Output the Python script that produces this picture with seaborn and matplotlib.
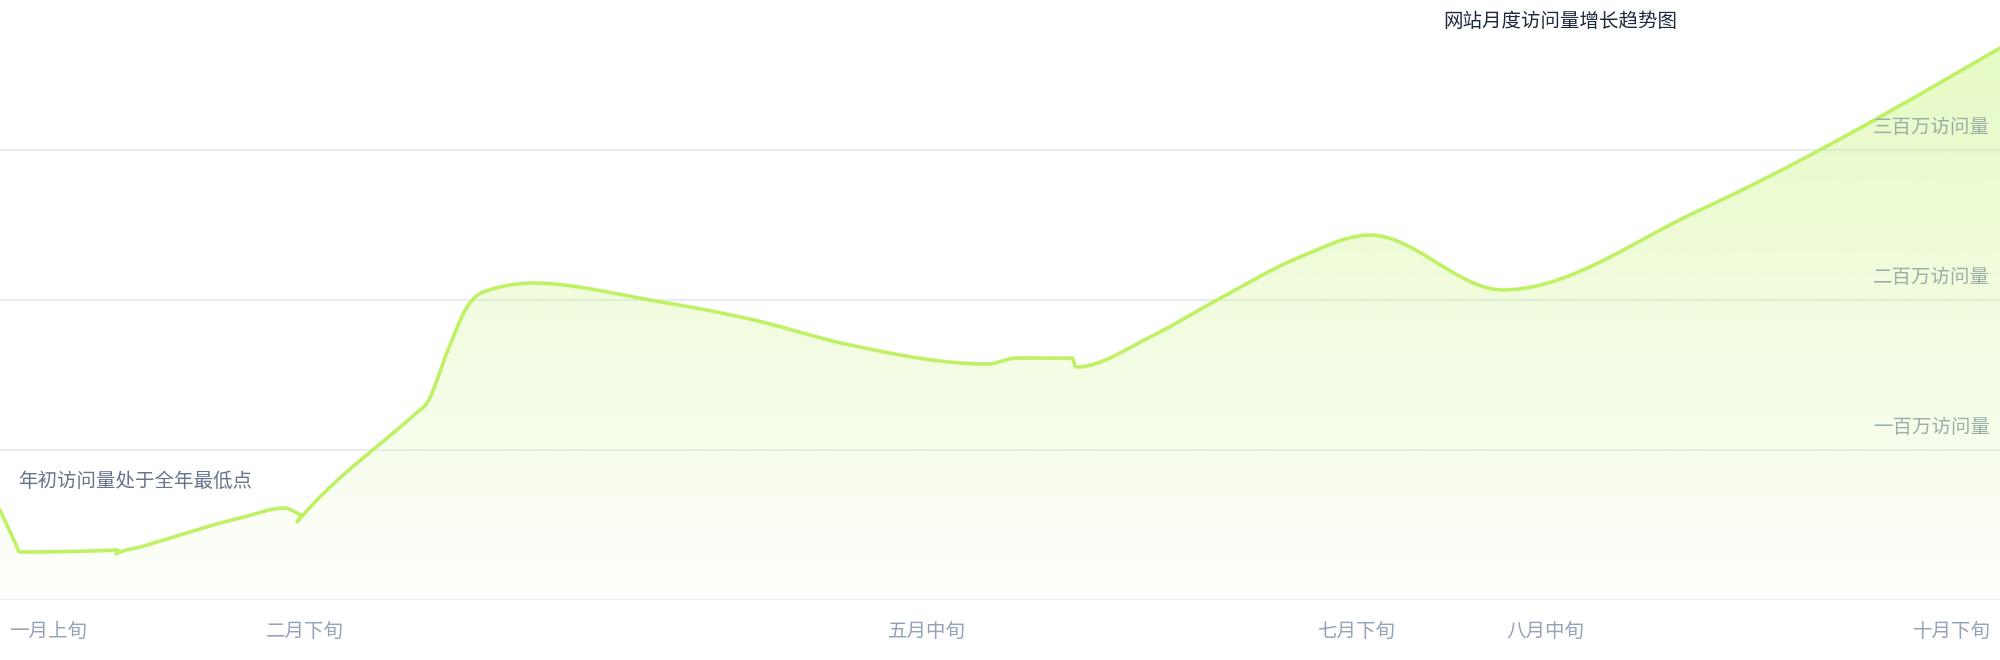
import numpy as np
import pandas as pd
import matplotlib
matplotlib.use("Agg")
import matplotlib.pyplot as plt
import seaborn as sns
from matplotlib.patches import Polygon
from matplotlib.transforms import blended_transform_factory

# ---------------- data ----------------
days = [0.0, 1.4, 2.0, 11.8, 11.6, 14.0, 24.0, 28.5, 30.3, 29.7, 41.5, 42.7, 44.8,
        46.7, 48.3, 53.3, 65.0, 75.0, 85.0, 98.7, 101.7, 107.2, 107.6, 115.0,
        121.7, 130.0, 137.0, 150.3, 170.0, 200.0]
visits = [60.0, 40.0, 32.0, 33.3, 30.7, 35.3, 54.7, 61.3, 56.7, 52.0, 124.0, 131.3, 166.7,
          195.3, 205.3, 211.3, 200.0, 187.3, 170.0, 157.3, 161.3, 161.3, 155.3, 175.3,
          200.0, 228.7, 243.3, 206.7, 260.0, 368.0]

x_tick_pos = [4.8, 30.5, 92.7, 135.6, 154.5, 195.2]
x_tick_labels = ["一月上旬", "二月下旬", "五月中旬", "七月下旬", "八月中旬", "十月下旬"]

y_grid_values = [100, 200, 300]
y_grid_labels = ["一百万访问量", "二百万访问量", "三百万访问量"]

title_text = "网站月度访问量增长趋势图"
note_text = "年初访问量处于全年最低点"

# ---------------- style ----------------
sns.set_theme(style="white")
plt.rcParams["font.family"] = ["Noto Sans CJK SC", "DejaVu Sans"]

LINE = "#bef264"
GRID = "#e2e8f0"


def monotone_x(xs, ys, n=40):
    """Smooth monotone-x cubic rendering of the points (as d3.curveMonotoneX)."""
    xs = np.asarray(xs, float)
    ys = np.asarray(ys, float)
    N = len(xs)
    h = np.diff(xs)
    s = np.diff(ys) / h
    sg = lambda v: -1.0 if v < 0 else 1.0
    t = np.zeros(N)
    for i in range(1, N - 1):
        h0, h1, s0, s1 = h[i - 1], h[i], s[i - 1], s[i]
        p = (s0 * h1 + s1 * h0) / (h0 + h1)
        t[i] = (sg(s0) + sg(s1)) * min(abs(s0), abs(s1), 0.5 * abs(p))
    t[0] = (3 * s[0] - t[1]) / 2
    t[-1] = (3 * s[-1] - t[-2]) / 2
    bx, by = [xs[0]], [ys[0]]
    u = np.linspace(0, 1, n)[1:]
    for i in range(N - 1):
        x0, y0, x1, y1 = xs[i], ys[i], xs[i + 1], ys[i + 1]
        dx = (x1 - x0) / 3
        P = np.array([[x0, y0], [x0 + dx, y0 + dx * t[i]],
                      [x1 - dx, y1 - dx * t[i + 1]], [x1, y1]])
        B = ((1 - u) ** 3)[:, None] * P[0] + (3 * (1 - u) ** 2 * u)[:, None] * P[1] \
            + (3 * (1 - u) * u ** 2)[:, None] * P[2] + (u ** 3)[:, None] * P[3]
        bx.extend(B[:, 0])
        by.extend(B[:, 1])
    return np.array(bx), np.array(by)


fig = plt.figure(figsize=(20, 6.6), dpi=100)
fig.patch.set_facecolor("white")
ax = fig.add_axes([0, 60 / 660, 1, 600 / 660])
ax.set_facecolor("white")

# grid
ax.set_yticks([0] + y_grid_values)
ax.set_yticklabels([])
ax.yaxis.grid(True, color=GRID, linewidth=1.1)
ax.xaxis.grid(False)
ax.set_axisbelow(True)
for sp in ax.spines.values():
    sp.set_visible(False)
ax.tick_params(axis="y", length=0)

# smooth curve
cx, cy = monotone_x(days, visits)
df = pd.DataFrame({"day": cx, "visits": cy})

# gradient area
poly = Polygon(np.column_stack([np.r_[cx, cx[-1], cx[0]], np.r_[cy, 0, 0]]),
               closed=True, facecolor="none", edgecolor="none", transform=ax.transData)
ax.add_patch(poly)
top = max(visits)
grad = np.linspace(0.02, 0.38, 256)[::-1]
rgba = np.zeros((256, 1, 4))
rgba[..., 0] = 190 / 255
rgba[..., 1] = 242 / 255
rgba[..., 2] = 100 / 255
rgba[:, 0, 3] = grad
im = ax.imshow(rgba, extent=(0, 200, 0, top), aspect="auto", origin="upper",
               interpolation="bilinear", zorder=1.5)
im.set_clip_path(poly)

sns.lineplot(data=df, x="day", y="visits", sort=False, estimator=None, ax=ax,
             color=LINE, linewidth=2.6, solid_capstyle="round", solid_joinstyle="round",
             zorder=3)
ax.set_xlabel("")
ax.set_ylabel("")
ax.set_xlim(0, 200)
ax.set_ylim(0, 400)

# x tick labels
ax.set_xticks(x_tick_pos)
ax.set_xticklabels(x_tick_labels)
ax.tick_params(axis="x", length=0, pad=15, labelsize=14, labelcolor="#94a3b8")

# y labels inside plot
tr = blended_transform_factory(ax.transAxes, ax.transData)
for v, lab in zip(y_grid_values, y_grid_labels):
    ax.text(0.995, v + 15.3, lab, transform=tr, ha="right", va="center",
            fontsize=14, color="#9aafa5", zorder=4)

# annotation
ax.text(1.8, 79.3, note_text, ha="left", va="center", fontsize=14,
        color="#64748b", zorder=4)

# title
fig.text(1560 / 2000, 1 - 21.5 / 660, title_text, ha="center", va="center",
         fontsize=14, color="#1e293b")

fig.savefig("out.png", dpi=100, facecolor="white")
